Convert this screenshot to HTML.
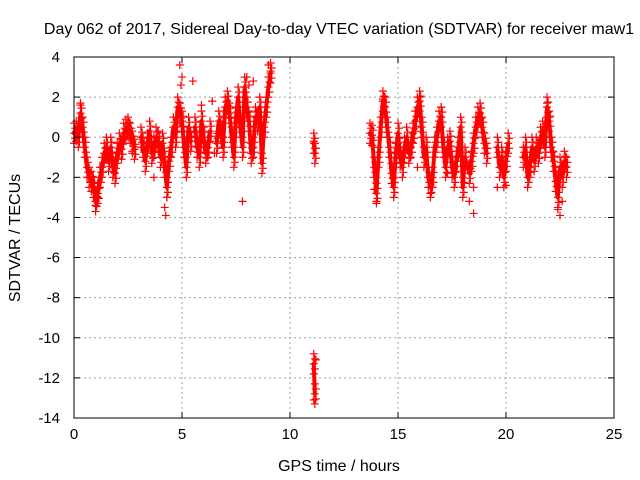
<!DOCTYPE html>
<html><head><meta charset="utf-8"><style>
body{margin:0;background:#fff;}
svg{display:block;font-family:"Liberation Sans",sans-serif;}
</style></head><body>
<svg id="chart" width="640" height="480">
<rect width="640" height="480" fill="#fff"/>
<text x="339" y="34" font-size="16" text-anchor="middle">Day 062 of 2017, Sidereal Day-to-day VTEC variation (SDTVAR) for receiver maw1</text>
<text x="339" y="471" font-size="16" text-anchor="middle">GPS time / hours</text>
<text x="20" y="238" font-size="16" text-anchor="middle" transform="rotate(-90 20 238)">SDTVAR / TECUs</text>
<g id="grid"></g>
<g id="marks"></g>
<g id="axes"></g>
</svg>
<script>
const xTicks=[0,5,10,15,20,25];
const yTicks=[4,2,0,-2,-4,-6,-8,-10,-12,-14];
const times=[0,0.1,0.2,0.3,0.4,0.5,0.6,0.7,0.8,0.9,1.0,1.1,1.2,1.3,1.4,1.5,1.6,1.7,1.8,1.9,2.0,2.1,2.2,2.3,2.4,2.5,2.6,2.7,2.8,null,
3.1,3.2,3.3,3.4,3.5,3.6,3.7,3.8,3.9,4.0,4.1,4.2,4.3,4.4,4.5,4.6,4.7,4.8,4.9,5.0,5.1,5.2,5.3,5.4,null,
5.6,5.7,5.8,5.9,6.0,6.1,6.2,6.3,null,
6.6,6.7,6.8,6.9,7.0,7.1,7.2,7.3,7.4,7.5,7.6,7.7,7.8,7.9,8.0,8.1,8.2,8.3,8.4,8.5,8.6,8.7,8.8,8.9,9.0,9.1,null,
11.1,11.15,null,11.1,11.15,null,
13.7,13.8,13.9,14.0,14.1,14.2,14.3,14.4,14.5,14.6,14.7,14.8,14.9,15.0,15.1,15.2,15.3,15.4,15.5,15.6,15.7,15.8,15.9,16.0,16.1,16.2,16.3,16.4,16.5,16.6,16.7,16.8,16.9,17.0,17.1,17.2,17.3,17.4,17.5,17.6,17.7,17.8,17.9,18.0,18.1,18.3,18.4,18.5,18.6,18.7,18.8,18.9,19.0,19.1,null,
19.6,19.7,19.8,19.9,20.0,20.1,null,
20.8,20.9,21.0,21.1,21.2,21.3,21.4,21.5,21.6,21.7,21.8,21.9,22.0,22.1,22.2,22.3,22.4,22.5,22.6,22.7,22.8];
const values=[0.2,0.3,0,1.2,0.5,-0.5,-1.5,-2,-2.2,-2.5,-3.2,-2.8,-2,-1.5,-0.8,-0.5,-1.2,-0.5,-1.5,-1.8,-0.8,-0.3,-0.6,0.2,0.4,0.5,0.2,-0.2,-0.6,null,
0,-0.5,-1.2,-0.3,0.3,-0.8,-0.5,0,-0.2,-1,-0.3,-1.5,-2.5,-1.2,-0.5,0.5,0,1.5,1.2,0.8,-0.5,-1.5,0.5,-0.2,null,
0.5,-0.5,-1,0.8,0,-0.8,-0.5,0.3,null,
-0.3,0.8,0.3,-0.5,1.5,1.8,1.2,0,-1,1,2,0.5,-0.5,2.5,1.5,0.8,-0.8,-0.5,1,0.8,1.5,-1.3,0.5,1.5,2.5,3.2,null,
-0.3,-0.8,null,-11.3,-12.8,null,
0.2,0.1,-1.5,-2.8,-1,0.5,1.8,1.5,0.5,-0.5,-1.8,-2.5,-0.8,0.2,-1,-1.5,-0.5,0,-0.8,-0.5,0.2,0.8,1.5,1.8,0.5,-1,-0.5,-2,-2.5,-2,-0.5,0,0.8,1,-0.5,-1.5,-0.5,-0.2,-1.5,-2,-1.2,-0.5,0.5,-2.5,-1,-1.8,-1.2,-0.3,0.5,1,1.2,0.5,-0.3,-0.8,null,
-0.5,-1.5,-1,-2,-1.2,-0.3,null,
-1,-0.5,-2,-1.5,-0.5,-1.2,-0.5,-0.8,0,0.3,-0.5,1.5,0.8,-0.5,-1.2,-2.2,-3,-1.5,-2,-1.2,-1.5];
const outT=[0.3,0.35,1.0,1.1,2.7,3.7,4.2,4.25,4.3,4.9,4.95,5.0,5.5,5.9,6.4,6.5,7.8,8.0,8.1,8.3,9.0,9.1,11.1,11.2,11.1,13.9,14.0,14.3,15.9,16.0,16.5,17.0,17.3,18.3,18.5,18.5,19.6,20.0,21.9,22.0,22.4,22.5,22.6];
const outV=[1.6,1.0,-3.4,-3.0,-0.8,-2.0,-3.5,-3.9,-3.0,3.6,2.6,3.0,2.8,1.6,1.8,-0.8,-3.2,3.0,2.6,2.8,3.6,3.3,-13.1,-11.1,-0.2,-2.6,-3.2,1.9,-1.5,2.0,-2.8,1.5,-1.8,-3.2,-3.8,-2.5,-2.5,-2.4,1.7,1.0,-3.6,-3.9,-3.2];
const L=74,R=614,T=57,B=418;
const xs=t=>L+(t-0)/25*(R-L);
const ys=v=>T+(4-v)/18*(B-T);
const NS="http://www.w3.org/2000/svg";
const grid=document.getElementById('grid'),marks=document.getElementById('marks'),axes=document.getElementById('axes');
function mk(tag,a,p){const e=document.createElementNS(NS,tag);for(const k in a)e.setAttribute(k,a[k]);p.appendChild(e);return e;}
xTicks.forEach(t=>{
 if(t>0&&t<25){const g=mk('line',{x1:xs(t),x2:xs(t),y1:T,y2:B,stroke:'#a0a0a0','stroke-dasharray':'2,3'},grid);
 
 }
 mk('line',{x1:xs(t),x2:xs(t),y1:B,y2:B-6,stroke:'#000'},axes);
 mk('line',{x1:xs(t),x2:xs(t),y1:T,y2:T+6,stroke:'#000'},axes);
 const lb=mk('text',{x:xs(t),y:B+21,'font-size':15,'text-anchor':'middle'},axes);lb.textContent=t;
 
 
});
yTicks.forEach(v=>{
 if(v<4&&v>-14){const g=mk('line',{x1:L,x2:R,y1:ys(v),y2:ys(v),stroke:'#a0a0a0','stroke-dasharray':'2,3'},grid);
 
 }
 mk('line',{x1:L,x2:L+6,y1:ys(v),y2:ys(v),stroke:'#000'},axes);
 mk('line',{x1:R,x2:R-6,y1:ys(v),y2:ys(v),stroke:'#000'},axes);
 const lb=mk('text',{x:L-14,y:ys(v)+5,'font-size':15,'text-anchor':'end'},axes);lb.textContent=v;
 
 
});
mk('rect',{x:L,y:T,width:R-L,height:B-T,fill:'none',stroke:'#000'},axes);
let run=[];
function flush(){if(run.length>1){const p=mk('polyline',{points:run.join(' '),fill:'none',stroke:'#ff0000','stroke-width':4,'stroke-linejoin':'round','stroke-linecap':'round'},marks);
 
 }run=[];}
for(let i=0;i<times.length;i++){if(times[i]===null){flush();continue;}run.push(xs(times[i])+','+ys(values[i]));}
flush();
function plus(t,v,name){const x=xs(t),y=ys(v);const p=mk('path',{d:`M${x-4},${y}h8M${x},${y-4}v8`,stroke:'#ff0000','stroke-width':1.2},marks);
 
 }
for(let i=0;i<times.length;i++){if(times[i]!==null){plus(times[i],values[i],'data-point');plus(times[i],values[i]+0.5,'data-point');plus(times[i],values[i]-0.5,'data-point');plus(times[i]+0.05,values[i]+0.25,'data-point');plus(times[i]+0.05,values[i]-0.25,'data-point');}}
for(let i=0;i<outT.length;i++)plus(outT[i],outV[i],'outlier-point');
</script>
</body></html>
